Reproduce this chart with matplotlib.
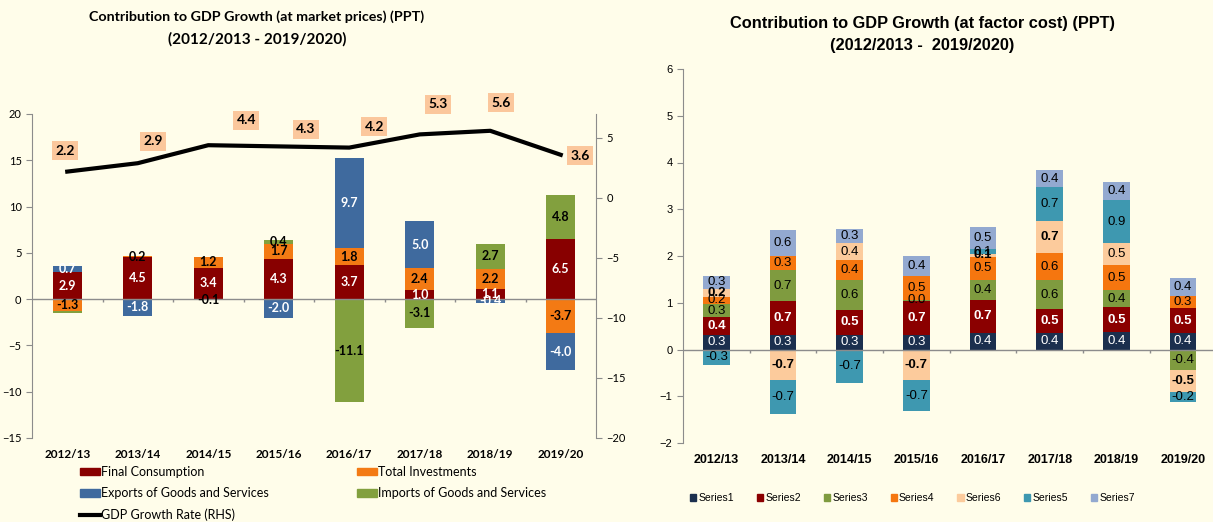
import matplotlib
matplotlib.use("Agg")
import matplotlib.pyplot as plt
from matplotlib.patches import Patch
from matplotlib.lines import Line2D
import numpy as np

# ============ DATA ============
years = ['2012/13', '2013/14', '2014/15', '2015/16', '2016/17', '2017/18', '2018/19', '2019/20']

# market prices chart (PPT)
final_consumption = [2.9, 4.5, 3.4, 4.3, 3.7, 1.0, 1.1, 6.5]
total_investments = [-1.3, 0.2, 1.2, 1.7, 1.8, 2.4, 2.2, -3.7]
exports = [0.7, -1.8, 0.0, -2.0, 9.7, 5.0, -0.4, -4.0]
imports = [-0.2, 0.0, -0.1, 0.4, -11.1, -3.1, 2.7, 4.8]
gdp_growth = [2.2, 2.9, 4.4, 4.3, 4.2, 5.3, 5.6, 3.6]

# factor cost chart (PPT)
series1 = [0.32, 0.32, 0.32, 0.32, 0.36, 0.36, 0.37, 0.36]
series2 = [0.37, 0.72, 0.53, 0.72, 0.70, 0.50, 0.53, 0.52]
series3 = [0.28, 0.65, 0.63, 0.02, 0.43, 0.63, 0.37, -0.44]
series4 = [0.16, 0.30, 0.43, 0.51, 0.49, 0.57, 0.53, 0.27]
series6 = [0.17, -0.65, 0.36, -0.65, 0.07, 0.69, 0.48, -0.46]
series5 = [-0.33, -0.74, -0.72, -0.67, 0.09, 0.72, 0.91, -0.23]
series7 = [0.28, 0.56, 0.30, 0.42, 0.48, 0.37, 0.40, 0.38]

# ============ STYLE ============
BG = '#FFFDEA'
SPINE = '#8C8C8C'
LEFT_FONT = 'Lato'
RIGHT_FONT = 'Liberation Sans'

W, H = 1213, 522
fig = plt.figure(figsize=(W / 100, H / 100), dpi=100, facecolor=BG)


def px_rect(x0, y0, x1, y1):
    return [x0 / W, 1 - y1 / H, (x1 - x0) / W, (y1 - y0) / H]


def stacked(ax, x, series, width, label_kw, hidden=(), plain=()):
    """Excel style stacked bars: positives and negatives stack separately"""
    pos = np.zeros(len(x))
    neg = np.zeros(len(x))
    for si, (vals, color, txt_color, weight) in enumerate(series):
        vals = np.array(vals, dtype=float)
        bottoms = np.where(vals >= 0, pos, neg)
        ax.bar(x, vals, width, bottom=bottoms, color=color, edgecolor='none', zorder=2)
        for i, v in enumerate(vals):
            if v == 0 or (si, i) in hidden:
                continue
            w = 'normal' if (si, i) in plain else weight
            ax.text(x[i], bottoms[i] + v / 2, f'{v:.1f}', ha='center', va='center',
                    color=txt_color, fontweight=w, zorder=4, **label_kw)
        pos += np.where(vals >= 0, vals, 0)
        neg += np.where(vals < 0, vals, 0)


# ============ LEFT CHART ============
ax = fig.add_axes(px_rect(32, 114, 596, 438))
ax.set_facecolor(BG)
x = np.arange(len(years))

left_series = [
    (final_consumption, '#880000', 'white', 'bold'),
    (total_investments, '#F37A14', 'black', 'bold'),
    (exports, '#3F6A9E', 'white', 'bold'),
    (imports, '#82A03E', 'black', 'bold'),
]
stacked(ax, x, left_series, 0.41, dict(fontsize=9, family=LEFT_FONT), hidden={(3, 0)})

ax.set_xlim(-0.5, len(years) - 0.5)
ax.set_ylim(-15, 20)
ax.set_yticks(range(-15, 21, 5))
ax.axhline(0, color=SPINE, lw=1, zorder=3)
ax.vlines(x[:-1] + 0.5, -0.35, 0, color=SPINE, lw=1, zorder=3)
for s in ['top', 'right', 'bottom']:
    ax.spines[s].set_visible(False)
ax.spines['left'].set_color(SPINE)
ax.tick_params(axis='y', colors=SPINE, labelcolor='black', labelsize=8, length=4)
ax.tick_params(axis='x', length=0, pad=8)
ax.set_xticks(x)
ax.set_xticklabels(years, fontsize=8.5, fontweight='bold', family=LEFT_FONT)
for t in ax.get_yticklabels():
    t.set_family(LEFT_FONT)

ax2 = ax.twinx()
ax2.set_ylim(-20, 7)
ax2.set_yticks(range(-20, 6, 5))
ax2.plot(x, gdp_growth, color='black', lw=3, zorder=5)
for s in ['top', 'left', 'bottom']:
    ax2.spines[s].set_visible(False)
ax2.spines['right'].set_color(SPINE)
ax2.tick_params(axis='y', colors=SPINE, labelcolor='black', labelsize=8, length=4)
for t in ax2.get_yticklabels():
    t.set_family(LEFT_FONT)

# label offsets in pixels (dx, dy up)
gdp_offsets = [(-2, 21), (15, 22), (38, 25), (27, 17), (25, 21), (18, 30), (11, 28), (19, -1)]
for i, v in enumerate(gdp_growth):
    dx, dy = gdp_offsets[i]
    ax2.annotate(f'{v:.1f}', (x[i], v), xytext=(dx * 0.72, dy * 0.72), textcoords='offset points',
                 ha='center', va='center', fontsize=10, fontweight='bold', family=LEFT_FONT,
                 bbox=dict(boxstyle='square,pad=0.25', fc='#FBC79C', ec='none'), zorder=6)

fig.text(257 / W, 1 - 17 / H, 'Contribution to GDP Growth (at market prices) (PPT)', ha='center', va='center',
         fontsize=10.3, fontweight='bold', family=LEFT_FONT)
fig.text(257 / W, 1 - 39 / H, '(2012/2013 - 2019/2020)', ha='center', va='center',
         fontsize=11, fontweight='bold', family=LEFT_FONT)

h_fc = Patch(color='#880000')
h_ti = Patch(color='#F37A14')
h_ex = Patch(color='#3F6A9E')
h_im = Patch(color='#82A03E')
h_gdp = Line2D([], [], color='black', lw=3)
fig.legend([h_fc, h_ex, h_gdp, h_ti, h_im],
           ['Final Consumption', 'Exports of Goods and Services', 'GDP Growth Rate (RHS)',
            'Total Investments', 'Imports of Goods and Services'],
           ncol=2, loc='upper left', bbox_to_anchor=(80 / W, 1 - 466 / H), frameon=False,
           prop=dict(family=LEFT_FONT, size=9), handlelength=1.6, handleheight=0.55,
           handletextpad=0.1, columnspacing=7, labelspacing=0.75, borderpad=0, borderaxespad=0)

# ============ RIGHT CHART ============
axr = fig.add_axes(px_rect(683, 69, 1216.5, 443))
axr.set_facecolor(BG)

right_series = [
    (series1, '#1B2F4E', 'white', 'normal'),
    (series2, '#8B0000', 'white', 'bold'),
    (series3, '#7F9B3F', 'black', 'normal'),
    (series4, '#F5760F', 'black', 'normal'),
    (series6, '#FCCB9C', 'black', 'bold'),
    (series5, '#3E98B0', 'black', 'normal'),
    (series7, '#93A9D0', 'black', 'normal'),
]
stacked(axr, x, right_series, 0.4, dict(fontsize=9.5, family=RIGHT_FONT), plain={(4, 2), (4, 6)})

axr.set_xlim(-0.5, len(years) - 0.5)
axr.set_ylim(-2, 6)
axr.set_yticks(range(-2, 7))
axr.axhline(0, color=SPINE, lw=1, zorder=3)
axr.vlines(x[:-1] + 0.5, -0.07, 0, color=SPINE, lw=1, zorder=3)
for s in ['top', 'right', 'bottom']:
    axr.spines[s].set_visible(False)
axr.spines['left'].set_color(SPINE)
axr.tick_params(axis='y', colors=SPINE, labelcolor='black', labelsize=8, length=4)
axr.tick_params(axis='x', length=0, pad=8)
axr.set_xticks(x)
axr.set_xticklabels(years, fontsize=9, fontweight='bold', family=RIGHT_FONT)
for t in axr.get_yticklabels():
    t.set_family(RIGHT_FONT)

fig.text(922 / W, 1 - 24 / H, 'Contribution to GDP Growth (at factor cost) (PPT)', ha='center', va='center',
         fontsize=11.8, fontweight='bold', family=RIGHT_FONT)
fig.text(922 / W, 1 - 45 / H, '(2012/2013 -  2019/2020)', ha='center', va='center',
         fontsize=11.8, fontweight='bold', family=RIGHT_FONT)

right_names = ['Series1', 'Series2', 'Series3', 'Series4', 'Series6', 'Series5', 'Series7']
fig.legend([Patch(color=c) for _, c, _, _ in right_series], right_names,
           ncol=7, loc='center left', bbox_to_anchor=(690 / W, 1 - 498 / H), frameon=False,
           prop=dict(family=RIGHT_FONT, size=7.5), handlelength=0.6, handleheight=0.6,
           handletextpad=0.2, columnspacing=2.2, borderpad=0, borderaxespad=0)

fig.savefig('out.png', dpi=100, facecolor=BG)
